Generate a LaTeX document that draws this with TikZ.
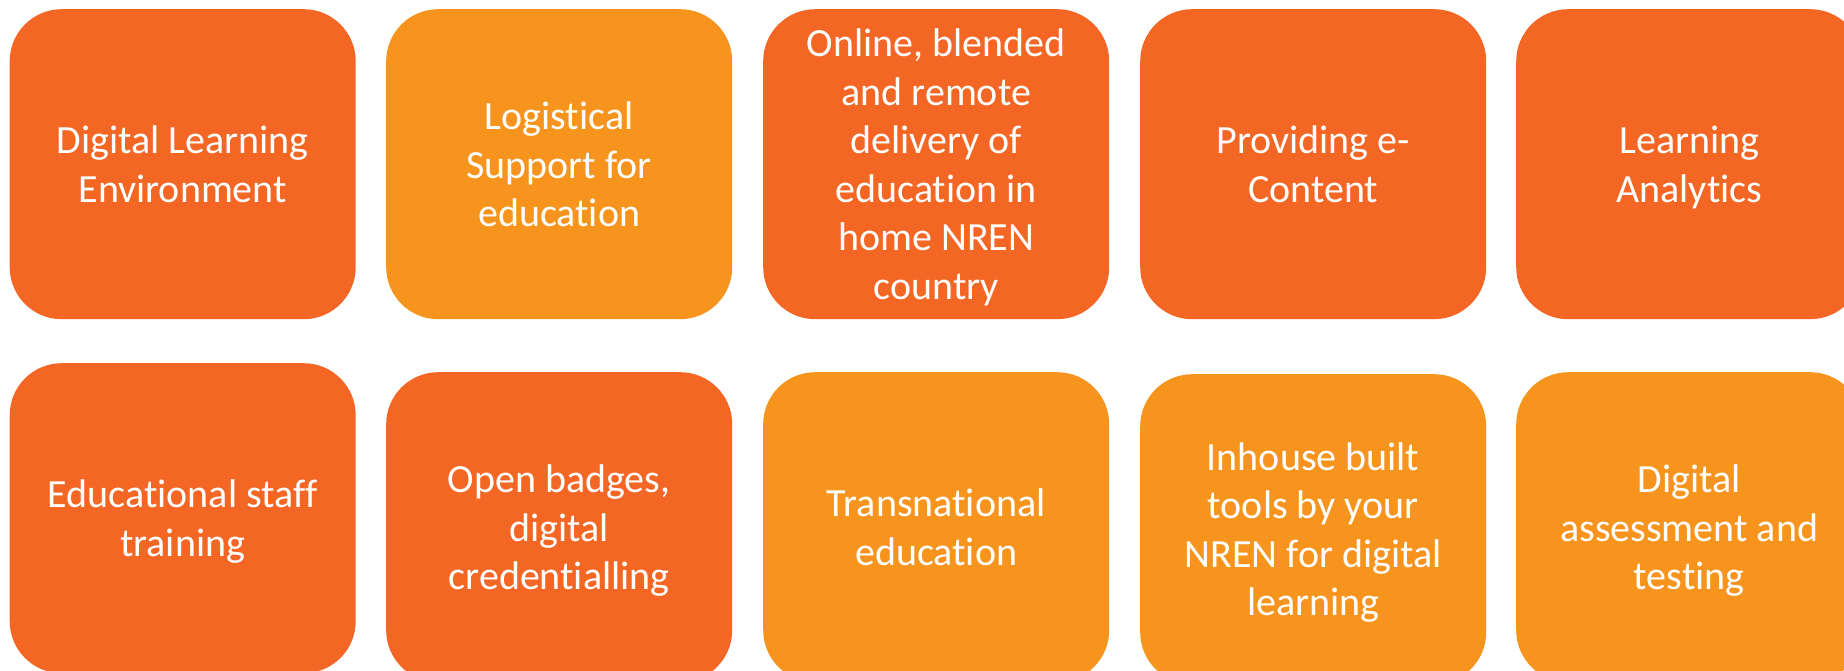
\documentclass[tikz,border=0pt]{standalone}
\usepackage{fontspec}
\setmainfont[Ligatures=NoCommon]{Carlito}
\definecolor{darkor}{RGB}{243,102,36}
\definecolor{lightor}{RGB}{247,148,30}
\newcommand\myst{\rule[-10.25pt]{0pt}{48.5pt}}
\tikzset{
  tile/.style={rounded corners=52pt, minimum width=346pt, minimum height=310pt,
    anchor=north west, inner sep=0pt, draw=none, text=white, align=center,
    font=\fontsize{40}{48.5}\selectfont},
  tiledark/.style={tile, fill=darkor},
  tilelight/.style={tile, fill=lightor}
}
\begin{document}
\begin{tikzpicture}[x=1pt,y=-1pt]
\useasboundingbox (0,0) rectangle (1844,671);
\clip (0,0) rectangle (1844,671);
\fill[white] (0,0) rectangle (1844,671);
% top row
\node[tiledark]  (a1) at (9.5,9)   {\myst Digital Learning\\Environment\myst};
\node[tilelight] (a2) at (386,9)   {\myst Logistical\\Support for\\education\myst};
\node[tiledark]  (a3) at (763,9)   {\myst Online, blended\\and remote\\delivery of\\education in\\home NREN\\country\myst};
\node[tiledark]  (a4) at (1140,9)  {\myst Providing e-\\Content\myst};
\node[tiledark]  (a5) at (1516,9)  {\myst Learning\\Analytics\myst};
% bottom row
\node[tiledark]  (b1) at (9.5,363) {\myst Educational staff\\training\myst};
\node[tiledark]  (b2) at (386,372) {\myst Open badges,\\digital\\credentialling\myst};
\node[tilelight] (b3) at (763,372) {\myst Transnational\\education\myst};
\node[tilelight] (b4) at (1140,374) {\myst Inhouse built\\tools by your\\NREN for digital\\learning\myst};
\node[tilelight] (b5) at (1516,372) {\myst Digital\\assessment and\\testing\myst};
\end{tikzpicture}
\end{document}
